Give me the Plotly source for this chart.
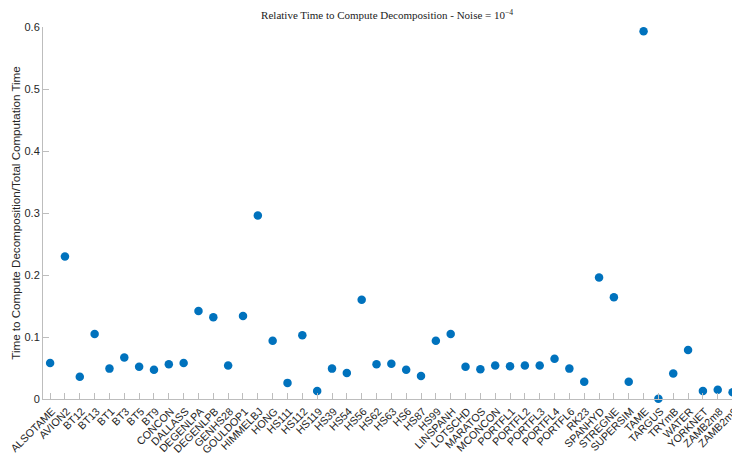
import plotly.graph_objects as go

problems = ["ALSOTAME", "AVION2", "BT12", "BT13", "BT1", "BT3", "BT5", "BT9",
            "CONCON", "DALLASS", "DEGENLPA", "DEGENLPB", "GENHS28", "GOULDOP1",
            "HIMMELBJ", "HONG", "HS111", "HS112", "HS119", "HS39", "HS54", "HS56",
            "HS62", "HS63", "HS6", "HS87", "HS99", "LINSPANH", "LOTSCHD", "MARATOS",
            "MCONCON", "PORTFL1", "PORTFL2", "PORTFL3", "PORTFL4", "PORTFL6", "RK23",
            "SPANHYD", "STREGNE", "SUPERSIM", "TAME", "TARGUS", "TRYmB", "WATER",
            "YORKNET", "ZAMB2m8", "ZAMB2m9"]

rel_time = [0.058, 0.230, 0.036, 0.105, 0.049, 0.067, 0.052, 0.047,
            0.056, 0.058, 0.142, 0.132, 0.054, 0.134,
            0.296, 0.094, 0.026, 0.103, 0.013, 0.049, 0.042, 0.160,
            0.056, 0.057, 0.047, 0.037, 0.094, 0.105, 0.052, 0.048,
            0.054, 0.053, 0.054, 0.054, 0.065, 0.049, 0.028,
            0.196, 0.164, 0.028, 0.593, 0.0005, 0.041, 0.079,
            0.013, 0.015, 0.011]

yticks = [0, 0.1, 0.2, 0.3, 0.4, 0.5, 0.6]
ytext = ["0", "0.1", "0.2", "0.3", "0.4", "0.5", "0.6"]

fig = go.Figure()
fig.add_trace(go.Scatter(x=list(range(len(problems))), y=rel_time, mode="markers",
                         marker=dict(color="#0072BD", size=8.5, line=dict(width=0)),
                         cliponaxis=False))

axis_font = dict(family="Liberation Sans, Arial, sans-serif", size=11, color="#262626")
xtick_font = dict(family="Liberation Sans, Arial, sans-serif", size=10.7, color="#262626")

# page body has an 8px margin, so the figure is sized to fit the window
fig.update_layout(
    width=732, height=449,
    margin=dict(l=35, r=0, t=19, b=58),
    plot_bgcolor="white", paper_bgcolor="white",
    showlegend=False,
    title=dict(text="Relative Time to Compute Decomposition - Noise = 10<sup>\u22124</sup>",
               x=0.518, xanchor="center", y=0.983, yanchor="middle",
               font=dict(family="Liberation Serif, DejaVu Serif, serif", size=11, color="#222")),
)
fig.update_xaxes(
    range=[-0.48, 46.5], tickmode="array", tickvals=list(range(len(problems))),
    ticktext=problems, tickangle=-45, ticks="inside", ticklen=6, tickcolor="#bdbdbd",
    showline=True, linecolor="#bdbdbd", linewidth=1, showgrid=False, zeroline=False,
    tickfont=xtick_font, automargin=False, ticklabeloverflow="allow",
    ticklabelshift=2, ticklabelstandoff=1,
)
fig.update_yaxes(
    range=[0, 0.6], tickmode="array", tickvals=yticks, ticktext=ytext,
    ticks="inside", ticklen=6, tickcolor="#bdbdbd",
    showline=True, linecolor="#bdbdbd", linewidth=1, showgrid=False, zeroline=False,
    tickfont=axis_font, automargin=False, ticklabeloverflow="allow",
    title=dict(text="Time to Compute Decomposition/Total Computation Time",
               font=dict(family="Liberation Sans, Arial, sans-serif", size=11.6, color="#262626"),
               standoff=1),
)

fig.write_html("out.html")
